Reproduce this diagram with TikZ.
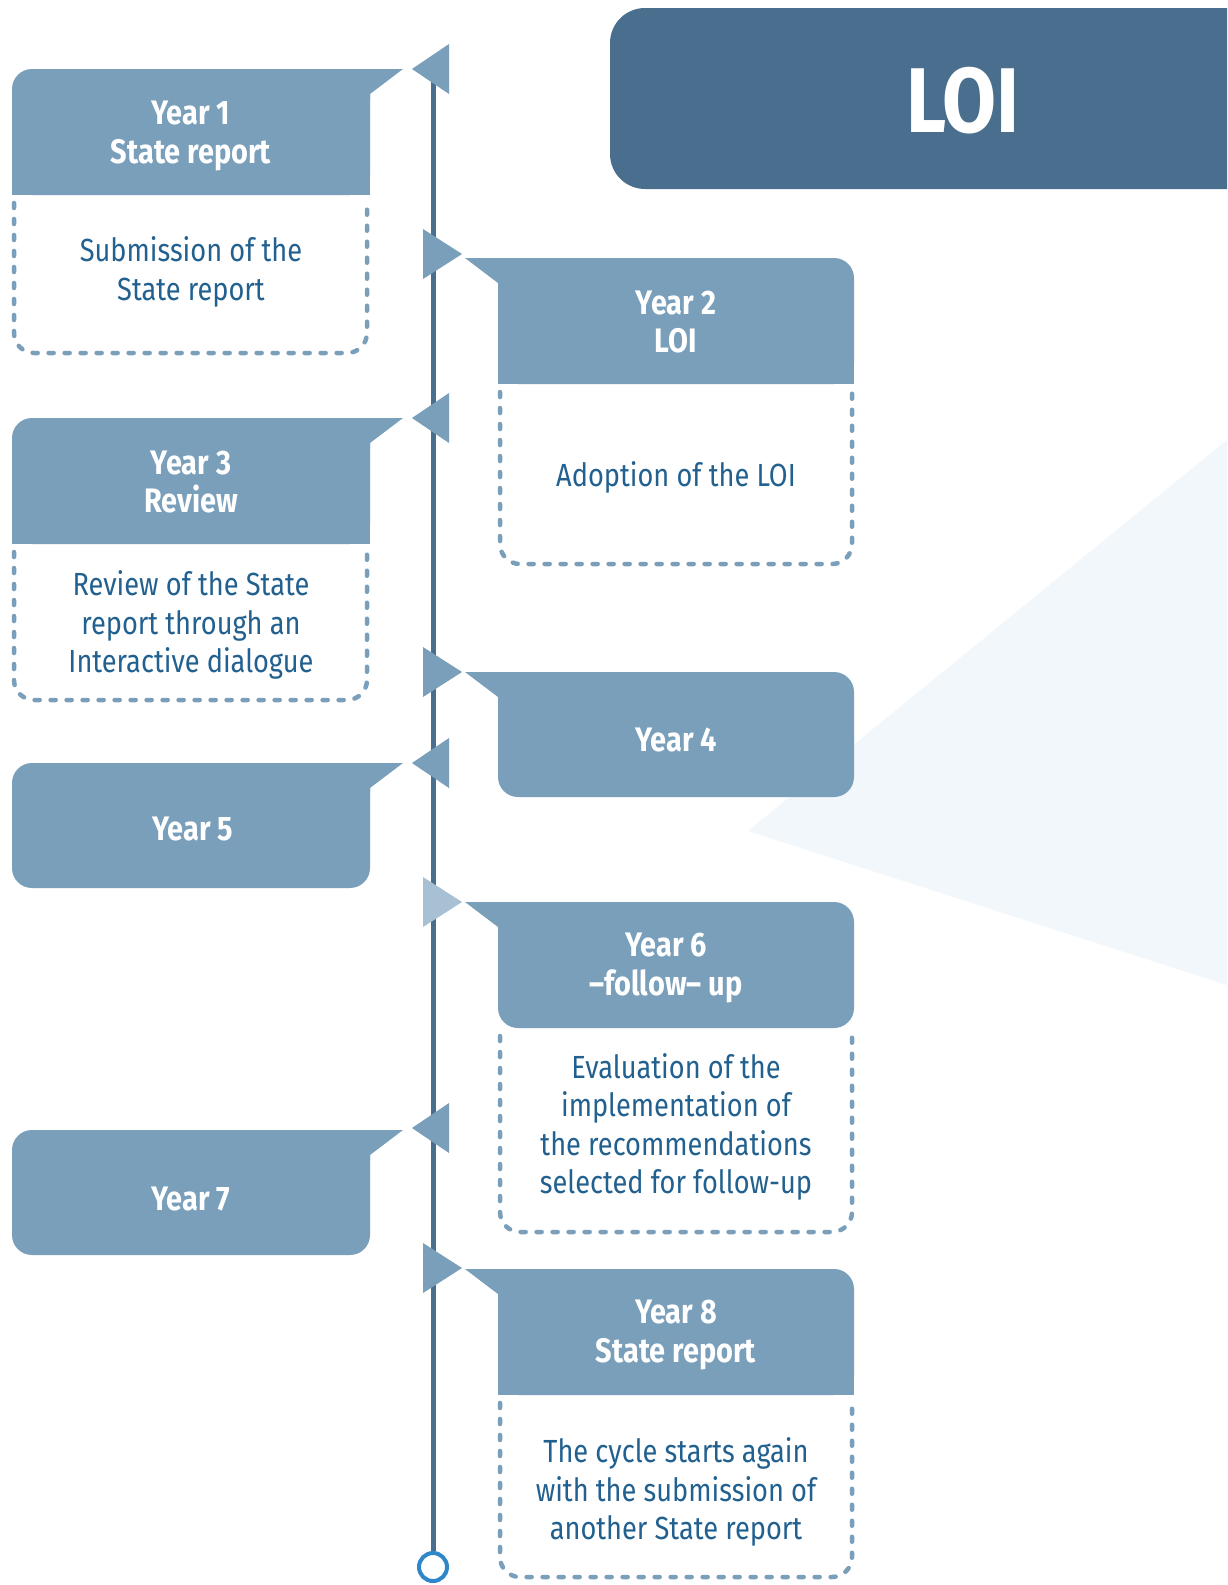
\documentclass[tikz,border=0pt]{standalone}
\usepackage{fontspec}
\setmainfont[FakeStretch=0.85]{Fira Sans}
\definecolor{boxblue}{HTML}{7A9FBA}
\definecolor{darkblue}{HTML}{4A6F8E}
\definecolor{bodyblue}{HTML}{22618F}
\definecolor{lighttri}{HTML}{A8C0D3}
\definecolor{bgtri}{HTML}{F2F7FB}
\definecolor{circblue}{HTML}{2F86C8}
\newcommand\mkLeftBox[2]{%
  \fill[boxblue, rounded corners=20pt] (12,#1) rectangle (370,#2);
  \fill[boxblue] (340,#1) -- (403,#1) -- (370,#1+25) -- (370,#1+30) -- (340,#1+30) -- cycle;}
\newcommand\mkRightBox[2]{%
  \fill[boxblue, rounded corners=20pt] (498,#1) rectangle (854,#2);
  \fill[boxblue] (465,#1) -- (530,#1) -- (530,#1+30) -- (498,#1+30) -- (498,#1+25) -- cycle;}
\newcommand\sqLeft[2]{\fill[boxblue] (12,#1+25) rectangle (370,#2);}
\newcommand\sqRight[2]{\fill[boxblue] (498,#1+25) rectangle (854,#2);}
\newcommand\triLeft[2]{\fill[#2] (412,#1) -- (449,#1-25) -- (449,#1+25) -- cycle;}
\newcommand\triRight[2]{\fill[#2] (423,#1-25) -- (462,#1) -- (423,#1+25) -- cycle;}
\begin{document}
\begin{tikzpicture}[x=1pt,y=-1pt,
  hdr/.style={text=white, font=\fontsize{34}{38.5}\selectfont\bfseries, align=center, inner sep=0pt},
  bodytxt/.style={text=bodyblue, font=\fontsize{32}{38.5}\selectfont, align=center, inner sep=0pt},
  dashbox/.style={draw=boxblue, line width=4.5pt, dash pattern=on 5pt off 11pt, line cap=round, rounded corners=20pt}]
\useasboundingbox (0,0) rectangle (1227,1585);
\clip (0,0) rectangle (1227,1585);
\fill[white] (0,0) rectangle (1227,1585);
% background triangle
\fill[bgtri] (748,831) -- (1227,440) -- (1227,985) -- cycle;
% title
\fill[darkblue, rounded corners=35pt] (610,8) rectangle (1300,189);
\node[text=white, font=\fontsize{92}{92}\selectfont\bfseries, inner sep=0pt] (title) at (963,101) {LOI};
% timeline
\node[circle, draw=circblue, line width=4pt, fill=white, minimum size=28pt, inner sep=0pt] (end) at (433,1567) {};
\coordinate (start) at (433,60);
\draw[darkblue, line width=5pt] (start) -- (end.north);
% triangles on the timeline
\triLeft{69}{boxblue}
\triRight{254}{boxblue}
\triLeft{418}{boxblue}
\triRight{672}{boxblue}
\triLeft{763}{boxblue}
\triRight{902}{lighttri}
\triLeft{1128}{boxblue}
\triRight{1268}{boxblue}
% Year 1
\mkLeftBox{69}{195}\sqLeft{69}{195}
\draw[dashbox] (14,203) -- (14,353) -- (367,353) -- (367,203);
\node[hdr] (y1h) at (191,136) {Year 1\\State report};
\node[bodytxt] (y1b) at (191,272) {Submission of the\\State report};
% Year 2
\mkRightBox{258}{384}\sqRight{258}{384}
\draw[dashbox] (500,392) -- (500,564) -- (852,564) -- (852,392);
\node[hdr] (y2h) at (676,322) {Year 2\\LOI};
\node[bodytxt] (y2b) at (676,477) {Adoption of the LOI};
% Year 3
\mkLeftBox{418}{544}\sqLeft{418}{544}
\draw[dashbox] (14,552) -- (14,700) -- (367,700) -- (367,552);
\node[hdr] (y3h) at (191,482) {Year 3\\Review};
\node[bodytxt] (y3b) at (191,625) {Review of the State\\report through an\\Interactive dialogue};
% Year 4
\mkRightBox{672}{797}
\node[hdr] (y4h) at (676,740) {Year 4};
% Year 5
\mkLeftBox{763}{888}
\node[hdr] (y5h) at (193,829) {Year 5};
% Year 6
\mkRightBox{902}{1028}
\draw[dashbox] (500,1036) -- (500,1232) -- (852,1232) -- (852,1036);
\node[hdr] (y6h) at (666,968) {Year 6\\–follow– up};
\node[bodytxt] (y6b) at (676,1127) {Evaluation of the\\implementation of\\the recommendations\\selected for follow-up};
% Year 7
\mkLeftBox{1130}{1255}
\node[hdr] (y7h) at (191,1199) {Year 7};
% Year 8
\mkRightBox{1269}{1395}\sqRight{1269}{1395}
\draw[dashbox] (500,1403) -- (500,1577) -- (852,1577) -- (852,1403);
\node[hdr] (y8h) at (676,1335) {Year 8\\State report};
\node[bodytxt] (y8b) at (676,1492) {The cycle starts again\\with the submission of\\another State report};
\end{tikzpicture}
\end{document}
